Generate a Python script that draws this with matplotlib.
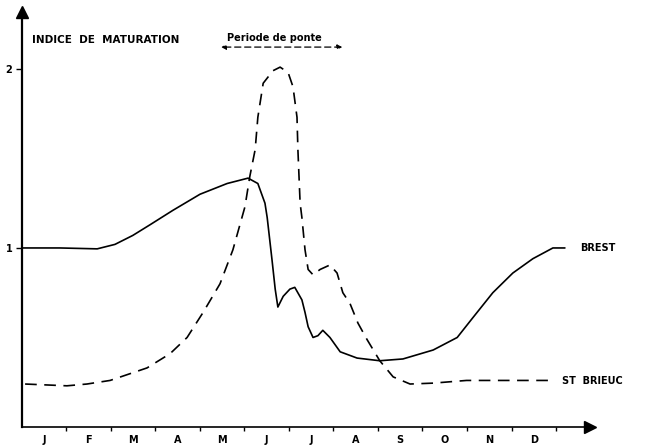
import matplotlib
matplotlib.use("Agg")
import matplotlib.pyplot as plt

# month positions (0 = start of January, 1 month per unit) and maturation index
MONTHS = ["J", "F", "M", "A", "M", "J", "J", "A", "S", "O", "N", "D"]

brest_x = [0.02, 0.85, 1.69, 2.09, 2.49, 2.88, 3.39, 4.00, 4.61, 5.08, 5.30,
           5.46, 5.51, 5.62, 5.69, 5.75, 5.87, 6.02, 6.13, 6.29, 6.36, 6.43,
           6.54, 6.65, 6.76, 6.92, 7.15, 7.53, 8.04, 8.56, 9.24, 9.78, 10.13,
           10.58, 11.03, 11.48, 11.93, 12.20]
brest_y = [1.00, 1.00, 0.995, 1.02, 1.07, 1.13, 1.21, 1.30, 1.36, 1.39, 1.36,
           1.25, 1.17, 0.93, 0.77, 0.67, 0.73, 0.77, 0.78, 0.71, 0.64, 0.56,
           0.50, 0.51, 0.54, 0.50, 0.42, 0.385, 0.37, 0.38, 0.43, 0.50, 0.61,
           0.75, 0.86, 0.94, 1.00, 1.00]

brieuc_x = [0.07, 1.01, 1.46, 1.98, 2.81, 3.33, 3.71, 4.07, 4.45, 4.74, 5.01,
            5.12, 5.24, 5.30, 5.42, 5.64, 5.80, 5.98, 6.09, 6.18, 6.20, 6.25,
            6.29, 6.36, 6.43, 6.54, 6.70, 6.92, 7.08, 7.21, 7.37, 7.55, 7.75,
            8.04, 8.34, 8.72, 9.24, 9.99, 10.74, 11.93]
brieuc_y = [0.24, 0.23, 0.24, 0.26, 0.33, 0.41, 0.50, 0.64, 0.80, 0.99, 1.23,
            1.40, 1.55, 1.73, 1.92, 1.99, 2.01, 1.98, 1.90, 1.73, 1.55, 1.25,
            1.17, 0.99, 0.88, 0.85, 0.88, 0.905, 0.86, 0.75, 0.69, 0.58, 0.49,
            0.37, 0.28, 0.24, 0.245, 0.26, 0.26, 0.26]

X_END = 12.76
Y_END = 2.32

fig = plt.figure(figsize=(6.56, 4.45), dpi=100)
ax = fig.add_axes([0, 0, 1, 1])
ax.set_xlim(-0.494, 14.247)
ax.set_ylim(-0.1006, 2.385)

ax.plot(brest_x, brest_y, color="black", lw=1.2, solid_capstyle="round")
ax.plot(brieuc_x, brieuc_y, color="black", lw=1.2, dashes=(7, 4.5))

# axes drawn as arrows through the origin
for side in ["top", "right"]:
    ax.spines[side].set_visible(False)
ax.spines["left"].set_position(("data", 0))
ax.spines["bottom"].set_position(("data", 0))
ax.spines["left"].set_bounds(0, Y_END)
ax.spines["bottom"].set_bounds(0, X_END)
ax.spines["left"].set_linewidth(1.6)
ax.spines["bottom"].set_linewidth(1.2)
ax.plot(X_END, 0, marker=">", ms=8, color="black", clip_on=False)
ax.plot(0, Y_END, marker="^", ms=8, color="black", clip_on=False)

ax.set_xticks(range(1, 13))
ax.set_xticklabels([])
ax.set_xticks([m + 0.5 for m in range(12)], minor=True)
ax.set_xticklabels(MONTHS, minor=True, fontsize=7, fontweight="bold")
ax.tick_params(axis="x", which="major", direction="out", length=3, width=1)
ax.tick_params(axis="x", which="minor", length=0, pad=6)
ax.set_yticks([1, 2])
ax.set_yticklabels(["1", "2"], fontsize=7, fontweight="bold")
ax.tick_params(axis="y", direction="out", length=4, width=1, pad=3)

ax.text(0.22, 2.16, "INDICE  DE  MATURATION", fontsize=7.5, fontweight="bold",
        va="center", ha="left")
ax.text(4.6, 2.17, "Periode de ponte", fontsize=7, fontweight="bold",
        va="center", ha="left")
ax.annotate("", xy=(4.41, 2.122), xytext=(7.26, 2.122),
            arrowprops=dict(arrowstyle="<|-|>", color="black", lw=0.9,
                            linestyle=(0, (5, 3)), mutation_scale=7))

ax.text(12.54, 1.0, "BREST", fontsize=7, fontweight="bold", va="center", ha="left")
ax.text(12.13, 0.255, "ST  BRIEUC", fontsize=7, fontweight="bold", va="center", ha="left")

fig.savefig("out.png", dpi=100)
